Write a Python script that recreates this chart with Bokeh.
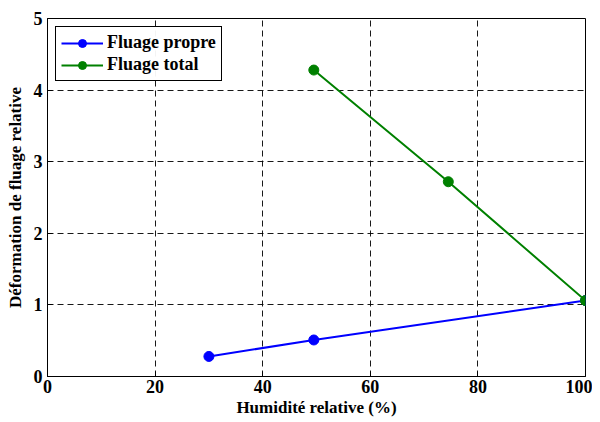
from bokeh.plotting import figure
from bokeh.models import Range1d, FixedTicker, Legend, LegendItem
from bokeh.embed import file_html
from bokeh.resources import INLINE

hr_propre = [30, 49.5, 100]
def_propre = [0.28, 0.51, 1.06]
hr_total = [49.5, 74.5, 100]
def_total = [4.28, 2.72, 1.06]
x_ticks = [0, 20, 40, 60, 80, 100]
y_ticks = [0, 1, 2, 3, 4, 5]

FONT = "Liberation Serif"

p = figure(width=592, height=420, output_backend="svg", toolbar_location=None,
           x_range=Range1d(0, 100), y_range=Range1d(0, 5),
           min_border_left=47, min_border_right=7, min_border_top=18, min_border_bottom=44)

p.outline_line_color = "black"
p.outline_line_width = 1
p.outline_line_alpha = 1

for ax in (p.xaxis[0], p.yaxis[0]):
    ax.major_label_text_font = FONT
    ax.major_label_text_font_style = "bold"
    ax.major_label_text_font_size = "18px"
    ax.axis_label_text_font = FONT
    ax.axis_label_text_font_style = "bold"
    ax.axis_label_text_font_size = "17px"
    ax.major_tick_in = 5
    ax.major_tick_out = 0
    ax.minor_tick_in = 0
    ax.minor_tick_out = 0
    ax.axis_line_color = "black"
    ax.major_label_text_color = "black"
    ax.axis_label_text_color = "black"

p.xaxis[0].ticker = FixedTicker(ticks=x_ticks)
p.yaxis[0].ticker = FixedTicker(ticks=y_ticks)
p.xaxis[0].axis_label = "Humidité relative (%)"
p.yaxis[0].axis_label = "Déformation de fluage relative"
p.xaxis[0].major_label_standoff = 3
p.yaxis[0].major_label_standoff = 5
p.xaxis[0].axis_label_standoff = 2
p.yaxis[0].axis_label_standoff = 6

for g in (p.xgrid[0], p.ygrid[0]):
    g.grid_line_color = "black"
    g.grid_line_dash = "6 4"
    g.grid_line_width = 1
    g.grid_line_alpha = 0.9

BLUE = "#0000ff"
GREEN = "#008000"

l1 = p.line(hr_propre, def_propre, line_color=BLUE, line_width=2)
s1 = p.scatter(hr_propre, def_propre, size=10, fill_color=BLUE, line_color=BLUE)
l2 = p.line(hr_total, def_total, line_color=GREEN, line_width=2)
s2 = p.scatter(hr_total, def_total, size=10, fill_color=GREEN, line_color=GREEN)

legend = Legend(items=[LegendItem(label="Fluage propre", renderers=[l1, s1]),
                       LegendItem(label="Fluage total", renderers=[l2, s2])],
                location="top_left")
legend.label_text_font = FONT
legend.label_text_font_style = "bold"
legend.label_text_font_size = "18px"
legend.label_text_color = "black"
legend.border_line_color = "black"
legend.border_line_width = 1
legend.border_line_alpha = 1
legend.margin = 8
legend.padding = 5
legend.spacing = 1
legend.glyph_width = 42
legend.label_height = 20
legend.glyph_height = 20
legend.label_standoff = 4
p.add_layout(legend)

open("out.html", "w").write(file_html(p, INLINE))
